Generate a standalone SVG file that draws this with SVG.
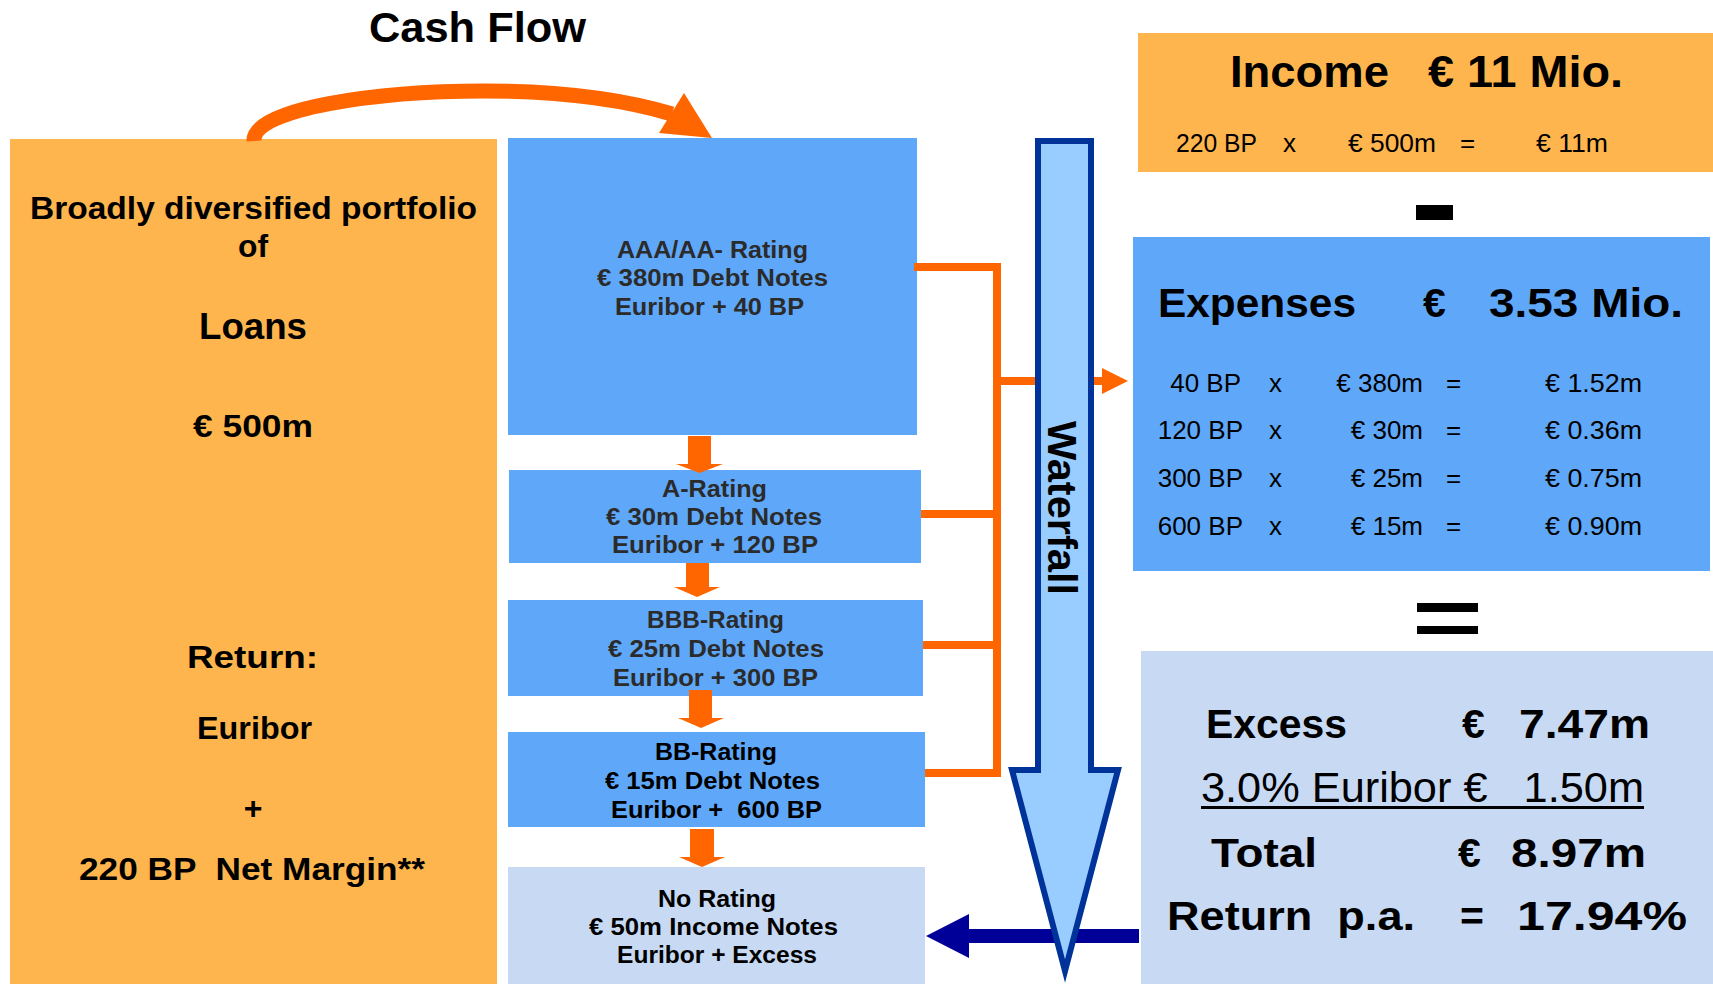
<svg xmlns="http://www.w3.org/2000/svg" width="1713" height="984" viewBox="0 0 1713 984">
<style>
text{font-family:"Liberation Sans",Arial,sans-serif;fill:#000;white-space:pre}
.b{font-weight:bold}
.rt{font-weight:bold;font-size:23px;fill:#2b2b2b}
.rk{font-weight:bold;font-size:23px;fill:#000}
.lt{font-weight:bold;font-size:32px}
.row{font-size:26px}
.big{font-weight:bold;font-size:41px}
.orange{fill:#FFB54D}
.blue{fill:#5FA8F9}
.pale{fill:#C8DAF3}
.oc{fill:none;stroke:#FF6600;stroke-width:8}
.oa{fill:#FF6600}
</style>
<rect width="1713" height="984" fill="#fff"/>

<g id="title">
<text class="b" x="369" y="42" font-size="42" textLength="217" lengthAdjust="spacingAndGlyphs">Cash Flow</text>
</g>

<g id="loans">
<rect class="orange" x="10" y="139" width="487" height="845"/>
<text class="lt" x="30" y="219" textLength="447" lengthAdjust="spacingAndGlyphs">Broadly diversified portfolio</text>
<text class="lt" x="238" y="257" textLength="30" lengthAdjust="spacingAndGlyphs">of</text>
<text class="b" x="199" y="339" font-size="36" textLength="108" lengthAdjust="spacingAndGlyphs">Loans</text>
<text class="lt" x="193" y="437" textLength="120" lengthAdjust="spacingAndGlyphs">€ 500m</text>
<text class="lt" x="187" y="668" textLength="131" lengthAdjust="spacingAndGlyphs">Return:</text>
<text class="lt" x="197" y="739" textLength="115" lengthAdjust="spacingAndGlyphs">Euribor</text>
<text class="lt" x="253" y="819" text-anchor="middle">+</text>
<text class="lt" x="79" y="880" xml:space="preserve" textLength="346" lengthAdjust="spacingAndGlyphs">220 BP  Net Margin**</text>
</g>

<g id="aaa">
<rect class="blue" x="508" y="138" width="409" height="297"/>
<text class="rt" x="617" y="258" textLength="191" lengthAdjust="spacingAndGlyphs">AAA/AA- Rating</text>
<text class="rt" x="597" y="286" textLength="231" lengthAdjust="spacingAndGlyphs">€ 380m Debt Notes</text>
<text class="rt" x="615" y="315" textLength="189" lengthAdjust="spacingAndGlyphs">Euribor + 40 BP</text>
</g>

<g id="a">
<rect class="blue" x="509" y="470" width="412" height="93"/>
<text class="rt" x="662" y="497" textLength="105" lengthAdjust="spacingAndGlyphs">A-Rating</text>
<text class="rt" x="606" y="525" textLength="216" lengthAdjust="spacingAndGlyphs">€ 30m Debt Notes</text>
<text class="rt" x="612" y="553" textLength="206" lengthAdjust="spacingAndGlyphs">Euribor + 120 BP</text>
</g>

<g id="bbb">
<rect class="blue" x="508" y="600" width="415" height="96"/>
<text class="rt" x="647" y="628" textLength="137" lengthAdjust="spacingAndGlyphs">BBB-Rating</text>
<text class="rt" x="608" y="657" textLength="216" lengthAdjust="spacingAndGlyphs">€ 25m Debt Notes</text>
<text class="rt" x="613" y="686" textLength="205" lengthAdjust="spacingAndGlyphs">Euribor + 300 BP</text>
</g>

<g id="bb">
<rect class="blue" x="508" y="732" width="417" height="95"/>
<text class="rk" x="655" y="760" textLength="122" lengthAdjust="spacingAndGlyphs">BB-Rating</text>
<text class="rk" x="605" y="789" textLength="215" lengthAdjust="spacingAndGlyphs">€ 15m Debt Notes</text>
<text class="rk" x="611" y="818" xml:space="preserve" textLength="211" lengthAdjust="spacingAndGlyphs">Euribor +  600 BP</text>
</g>

<g id="norating">
<rect class="pale" x="508" y="867" width="417" height="117"/>
<text class="rk" x="658" y="907" textLength="118" lengthAdjust="spacingAndGlyphs">No Rating</text>
<text class="rk" x="589" y="935" textLength="249" lengthAdjust="spacingAndGlyphs">€ 50m Income Notes</text>
<text class="rk" x="617" y="963" textLength="200" lengthAdjust="spacingAndGlyphs">Euribor + Excess</text>
</g>

<g id="income">
<rect class="orange" x="1138" y="33" width="575" height="139"/>
<text class="b" x="1230" y="87" font-size="44" textLength="159" lengthAdjust="spacingAndGlyphs">Income</text>
<text class="b" x="1428" y="87" font-size="44" textLength="195" lengthAdjust="spacingAndGlyphs">€ 11 Mio.</text>
<text class="row" x="1176" y="152" textLength="81" lengthAdjust="spacingAndGlyphs">220 BP</text>
<text class="row" x="1283" y="152">x</text>
<text class="row" x="1348" y="152" textLength="88" lengthAdjust="spacingAndGlyphs">€ 500m</text>
<text class="row" x="1460" y="152">=</text>
<text class="row" x="1536" y="152" textLength="72" lengthAdjust="spacingAndGlyphs">€ 11m</text>
</g>

<g id="minus">
<rect x="1416" y="205" width="37" height="15" fill="#000"/>
</g>

<g id="expenses">
<rect class="blue" x="1133" y="237" width="577" height="334"/>
<text class="big" x="1158" y="317" textLength="198" lengthAdjust="spacingAndGlyphs">Expenses</text>
<text class="big" x="1423" y="317">€</text>
<text class="big" x="1489" y="317" textLength="194" lengthAdjust="spacingAndGlyphs">3.53 Mio.</text>
<text class="row" x="1241" y="392" text-anchor="end">40 BP</text>
<text class="row" x="1269" y="392">x</text>
<text class="row" x="1423" y="392" text-anchor="end">€ 380m</text>
<text class="row" x="1446" y="392">=</text>
<text class="row" x="1545" y="392" textLength="97" lengthAdjust="spacingAndGlyphs">€ 1.52m</text>
<text class="row" x="1243" y="439" text-anchor="end">120 BP</text>
<text class="row" x="1269" y="439">x</text>
<text class="row" x="1423" y="439" text-anchor="end">€ 30m</text>
<text class="row" x="1446" y="439">=</text>
<text class="row" x="1545" y="439" textLength="97" lengthAdjust="spacingAndGlyphs">€ 0.36m</text>
<text class="row" x="1243" y="487" text-anchor="end">300 BP</text>
<text class="row" x="1269" y="487">x</text>
<text class="row" x="1423" y="487" text-anchor="end">€ 25m</text>
<text class="row" x="1446" y="487">=</text>
<text class="row" x="1545" y="487" textLength="97" lengthAdjust="spacingAndGlyphs">€ 0.75m</text>
<text class="row" x="1243" y="535" text-anchor="end">600 BP</text>
<text class="row" x="1269" y="535">x</text>
<text class="row" x="1423" y="535" text-anchor="end">€ 15m</text>
<text class="row" x="1446" y="535">=</text>
<text class="row" x="1545" y="535" textLength="97" lengthAdjust="spacingAndGlyphs">€ 0.90m</text>
</g>

<g id="equals">
<rect x="1417" y="603" width="61" height="9" fill="#000"/>
<rect x="1417" y="626" width="61" height="8" fill="#000"/>
</g>

<g id="excess">
<rect class="pale" x="1141" y="651" width="572" height="333"/>
<text class="big" x="1206" y="738" textLength="141" lengthAdjust="spacingAndGlyphs">Excess</text>
<text class="big" x="1462" y="738">€</text>
<text class="big" x="1519" y="738" textLength="131" lengthAdjust="spacingAndGlyphs">7.47m</text>
<text x="1201" y="802" font-size="42" xml:space="preserve" textLength="443" lengthAdjust="spacingAndGlyphs">3.0% Euribor €   1.50m</text>
<rect x="1201" y="806" width="443" height="3" fill="#000"/>
<text class="big" x="1211" y="867" textLength="106" lengthAdjust="spacingAndGlyphs">Total</text>
<text class="big" x="1458" y="867">€</text>
<text class="big" x="1511" y="867" textLength="135" lengthAdjust="spacingAndGlyphs">8.97m</text>
<text class="big" x="1167" y="930" xml:space="preserve" textLength="248" lengthAdjust="spacingAndGlyphs">Return  p.a.</text>
<text class="big" x="1460" y="930">=</text>
<text class="big" x="1517" y="930" textLength="170" lengthAdjust="spacingAndGlyphs">17.94%</text>
</g>

<g id="connectors">
<path d="M254 141 C252 108 380 91 484 91 C560 91 625 100 672 114" fill="none" stroke="#FF6600" stroke-width="15"/>
<polygon class="oa" points="684,93 712,138 659,133"/>
<polygon class="oa" points="688,436 711,436 711,464 723,464 699.5,473 676,464 688,464"/>
<polygon class="oa" points="686,563 709,563 709,587 720,587 697,597 674,587 686,587"/>
<polygon class="oa" points="689,690 712,690 712,718 724,718 701,728 678,718 689,718"/>
<polygon class="oa" points="690,829 714,829 714,857 725,857 702,867 679,857 690,857"/>
<path class="oc" d="M914 267 H997 V773 H925"/>
<path class="oc" d="M921 514 H997 M923 645 H997 M997 381 H1038 M1092 381 H1104"/>
<polygon class="oa" points="1102,368 1128,381 1102,394"/>
<polygon fill="#000099" points="1139,929 969,929 969,914 926,936 969,958 969,943 1139,943"/>
</g>

<g id="waterfall">
<path d="M1038 141 L1091 141 L1091 770 L1118 770 L1065 971 L1012 770 L1038 770 Z" fill="#99CCFF" stroke="#003399" stroke-width="6" stroke-miterlimit="10"/>
<text class="b" x="1048" y="508" font-size="41" text-anchor="middle" transform="rotate(90 1048 508)" textLength="174" lengthAdjust="spacingAndGlyphs">Waterfall</text>
</g>
</svg>
